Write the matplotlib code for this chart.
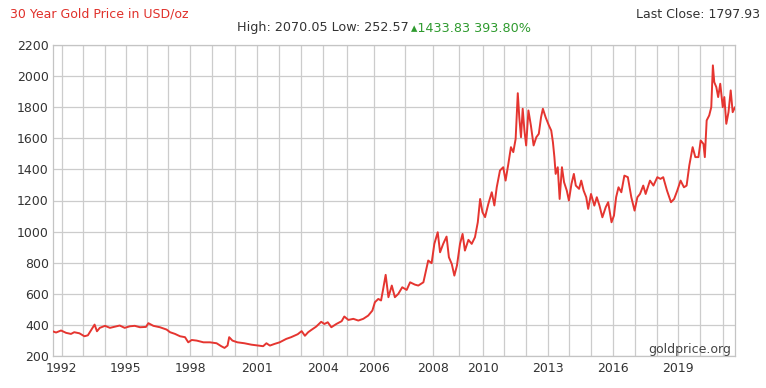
import numpy as np
from matplotlib import pyplot as plt

# gold price (decimal year, USD/oz)
dates = [1991.58, 1991.74, 1991.97, 1992.20, 1992.43, 1992.58, 1992.82, 1993.05, 1993.21, 1993.37,
         1993.52, 1993.63, 1993.76, 1994.00, 1994.24, 1994.48, 1994.71, 1994.95, 1995.19, 1995.42,
         1995.66, 1995.94, 1996.05, 1996.29, 1996.60, 1996.92, 1997.08, 1997.31, 1997.54, 1997.77,
         1997.92, 1998.08, 1998.31, 1998.62, 1998.92, 1999.21, 1999.41, 1999.55, 1999.68, 1999.75,
         1999.89, 2000.11, 2000.42, 2000.73, 2001.05, 2001.27, 2001.42, 2001.58, 2001.80, 2002.03,
         2002.33, 2002.55, 2002.85, 2003.03, 2003.18, 2003.33, 2003.48, 2003.70, 2003.93, 2004.07,
         2004.21, 2004.36, 2004.57, 2004.79, 2004.90, 2005.06, 2005.24, 2005.42, 2005.60, 2005.78,
         2005.93, 2006.02, 2006.13, 2006.22, 2006.29, 2006.37, 2006.46, 2006.57, 2006.67, 2006.78,
         2006.91, 2007.06, 2007.18, 2007.35, 2007.47, 2007.65, 2007.73, 2007.82, 2007.94, 2008.04,
         2008.17, 2008.26, 2008.38, 2008.51, 2008.60, 2008.71, 2008.81, 2008.91, 2009.03, 2009.14,
         2009.24, 2009.39, 2009.53, 2009.67, 2009.79, 2009.89, 2009.99, 2010.11, 2010.26, 2010.42,
         2010.54, 2010.65, 2010.80, 2010.95, 2011.06, 2011.19, 2011.31, 2011.42, 2011.53, 2011.63,
         2011.70, 2011.78, 2011.86, 2011.94, 2012.02, 2012.12, 2012.23, 2012.35, 2012.47, 2012.58,
         2012.68, 2012.76, 2012.88, 2013.03, 2013.14, 2013.22, 2013.29, 2013.35, 2013.45, 2013.54,
         2013.65, 2013.75, 2013.88, 2013.98, 2014.10, 2014.21, 2014.30, 2014.45, 2014.55, 2014.66,
         2014.78, 2014.87, 2015.00, 2015.15, 2015.26, 2015.38, 2015.51, 2015.66, 2015.77, 2015.92,
         2016.03, 2016.13, 2016.24, 2016.37, 2016.51, 2016.67, 2016.83, 2016.98, 2017.11, 2017.23,
         2017.38, 2017.49, 2017.69, 2017.85, 2018.03, 2018.18, 2018.31, 2018.49, 2018.68, 2018.83,
         2018.98, 2019.13, 2019.28, 2019.40, 2019.52, 2019.67, 2019.79, 2019.93, 2020.03, 2020.15,
         2020.21, 2020.29, 2020.40, 2020.49, 2020.56, 2020.62, 2020.71, 2020.79, 2020.88, 2020.99,
         2021.06, 2021.15, 2021.25, 2021.35, 2021.44, 2021.54]
prices = [359, 351, 364, 349, 342, 353, 346, 327, 333, 368,
          402, 359, 381, 394, 381, 389, 396, 381, 391, 394,
          385, 387, 411, 394, 385, 370, 353, 342, 327, 321,
          288, 303, 299, 288, 288, 282, 263, 252, 267, 321,
          299, 288, 282, 273, 267, 263, 282, 267, 278, 288,
          310, 321, 340, 360, 330, 353, 368, 389, 420, 406,
          417, 385, 406, 424, 454, 432, 439, 428, 439, 460,
          492, 546, 567, 557, 632, 722, 578, 653, 578, 599,
          642, 625, 674, 659, 653, 674, 739, 814, 797, 921,
          996, 867, 921, 968, 835, 792, 717, 782, 921, 985,
          878, 947, 921, 964, 1060, 1210, 1125, 1093, 1178, 1253,
          1168, 1285, 1393, 1414, 1328, 1436, 1543, 1511, 1596, 1890,
          1736, 1607, 1790, 1650, 1554, 1779, 1682, 1554, 1607, 1629,
          1736, 1790, 1736, 1682, 1650, 1575, 1479, 1371, 1414, 1210,
          1414, 1318, 1264, 1200, 1307, 1371, 1296, 1275, 1328, 1264,
          1221, 1146, 1242, 1167, 1221, 1167, 1092, 1157, 1189, 1060,
          1103, 1221, 1285, 1253, 1360, 1350, 1221, 1135, 1221, 1242,
          1296, 1242, 1328, 1296, 1350, 1339, 1350, 1264, 1189, 1210,
          1264, 1328, 1285, 1296, 1425, 1543, 1479, 1479, 1586, 1564,
          1479, 1715, 1747, 1800, 2069, 1961, 1929, 1865, 1951, 1800,
          1865, 1693, 1768, 1908, 1768, 1798]

year_labels = [1992, 1995, 1998, 2001, 2004, 2006, 2008, 2010, 2013, 2016, 2019]
y_ticks = list(range(200, 2201, 200))

# the source chart spaces years unevenly (2005-2009 are stretched),
# so the x axis goes through a piecewise-linear scale
grid_years = list(range(1991, 2023))
axis_px = [40.0, 61.7, 83.3, 105, 125.7, 147.3, 168.3, 190, 211.7, 235,
           257.3, 279, 301, 322.7, 346.7, 374.3, 405, 433.3, 459.3, 482.7,
           504.3, 525.7, 548.3, 569.3, 591, 613.3, 635, 656.7, 677.7, 700,
           723, 745]


def fwd(x):
    return np.interp(x, grid_years, axis_px)


def inv(p):
    return np.interp(p, axis_px, grid_years)


W, H = 766, 388
fig = plt.figure(figsize=(W / 100, H / 100), dpi=100)
ax = fig.add_axes([53 / W, 1 - 356 / H, (735 - 53) / W, (356 - 45) / H])

ax.set_xscale('function', functions=(fwd, inv))
ax.plot(dates, prices, color='#e53530', lw=1.4, zorder=3)

ax.set_xlim(inv(53), inv(735))
ax.set_ylim(200, 2200)
ax.set_yticks(y_ticks)
ax.set_xticks(grid_years[1:-1])
ax.set_xticklabels([str(y) if y in year_labels else '' for y in grid_years[1:-1]])
ax.minorticks_off()

ax.grid(True, color='#cccccc', lw=0.9)
ax.set_axisbelow(True)
for s in ax.spines.values():
    s.set_color('#c4c4c4')
    s.set_linewidth(0.9)
ax.tick_params(length=0, labelsize=9, colors='#333333')
ax.tick_params(axis='x', pad=4)
ax.tick_params(axis='y', pad=3)

ax.text(0.995, 0.022, 'goldprice.org', transform=ax.transAxes,
        ha='right', va='center', fontsize=9, color='#444444')

fig.text(10 / W, 1 - 14 / H, '30 Year Gold Price in USD/oz', ha='left', va='center',
         fontsize=9, color='#e0302a')
fig.text(760 / W, 1 - 14 / H, 'Last Close: 1797.93', ha='right', va='center',
         fontsize=9, color='#333333')
fig.text(409 / W, 1 - 28 / H, 'High: 2070.05 Low: 252.57', ha='right', va='center',
         fontsize=9.2, color='#333333')
fig.text(411 / W, 1 - 28 / H, '\u25b41433.83 393.80%', ha='left', va='center',
         fontsize=9.2, color='#2e9a2e')

plt.savefig('out.png', dpi=100)
